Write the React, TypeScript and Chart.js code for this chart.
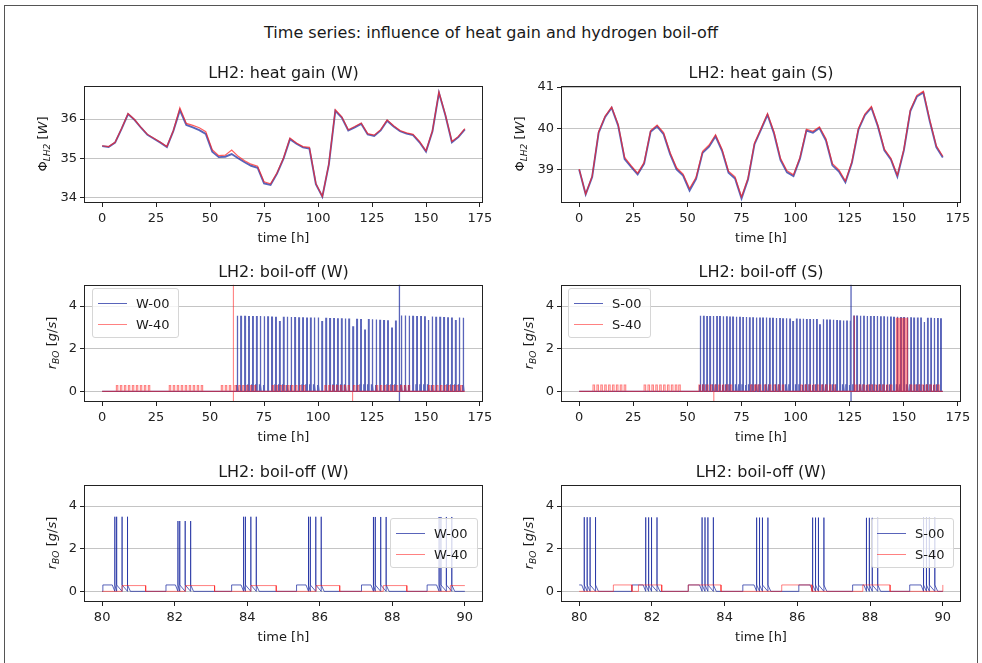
import React, { useEffect, useRef } from "react";
import { Chart, registerables } from "chart.js";

Chart.register(...registerables);

const FONT = "'DejaVu Sans', 'Liberation Sans', sans-serif";
Chart.defaults.font.family = FONT;

// ---------- heat gain data (hourly model, read every 3 h) ----------
const HEAT_TIME = [0,3,6,9,12,15,18,21,24,27,30,33,36,39,42,45,48,51,54,57,60,63,66,69,72,75,78,81,84,87,90,93,96,99,102,105,108,111,114,117,120,123,126,129,132,135,138,141,144,147,150,153,156,159,162,165,168];
const HEAT_W00 = [35.31,35.29,35.40,35.75,36.13,35.98,35.78,35.60,35.50,35.40,35.29,35.70,36.23,35.85,35.79,35.72,35.62,35.17,35.03,35.04,35.11,35.00,34.90,34.81,34.76,34.36,34.32,34.61,34.99,35.49,35.37,35.28,35.25,34.34,34.02,34.84,36.21,36.04,35.71,35.79,35.88,35.61,35.57,35.71,35.96,35.81,35.69,35.63,35.59,35.41,35.17,35.69,36.67,36.09,35.41,35.54,35.74];
const HEAT_W40 = [35.32,35.30,35.41,35.76,36.14,35.99,35.79,35.61,35.51,35.41,35.30,35.71,36.29,35.89,35.84,35.78,35.68,35.22,35.07,35.08,35.21,35.05,34.94,34.85,34.80,34.40,34.35,34.63,35.01,35.52,35.39,35.30,35.28,34.36,34.03,34.86,36.24,36.06,35.73,35.81,35.90,35.63,35.59,35.73,35.98,35.83,35.71,35.65,35.61,35.43,35.19,35.71,36.69,36.11,35.43,35.56,35.76];
const HEAT_S00 = [39.01,38.41,38.83,39.90,40.28,40.50,40.07,39.26,39.07,38.89,39.15,39.92,40.05,39.86,39.38,39.01,38.86,38.50,38.78,39.41,39.56,39.81,39.46,38.93,38.79,38.31,38.77,39.62,39.97,40.33,39.88,39.24,38.94,38.85,39.27,39.95,39.90,40.01,39.71,39.11,38.96,38.70,39.17,39.97,40.32,40.50,40.05,39.47,39.25,38.84,39.47,40.42,40.77,40.87,40.17,39.55,39.30];
const HEAT_S40 = [39.02,38.42,38.85,39.92,40.30,40.52,40.10,39.30,39.10,38.92,39.18,39.95,40.08,39.90,39.42,39.05,38.90,38.55,38.82,39.45,39.60,39.85,39.50,38.97,38.83,38.35,38.80,39.65,40.00,40.36,39.92,39.28,38.98,38.88,39.30,39.98,39.93,40.04,39.75,39.15,39.00,38.73,39.20,40.00,40.35,40.53,40.08,39.50,39.28,38.87,39.50,40.45,40.80,40.90,40.20,39.58,39.33];

// ---------- boil-off data ----------
// venting cycles: [start of cycle (h), peak boil-off rate (g/s)]
const W00_CYCLES: [number, number][] = [[62.2,3.55],[63.95,3.55],[65.74,3.55],[67.52,3.54],[69.3,3.54],[71.1,3.53],[72.88,3.53],[74.66,3.52],[76.45,3.52],[78.22,3.51],[80.02,3.5],[81.76,3.3],[83.57,3.5],[85.36,3.5],[87.15,3.49],[88.96,3.49],[90.75,3.48],[92.55,3.48],[94.33,3.47],[96.1,3.47],[97.9,3.46],[99.7,3.46],[101.5,3.3],[103.3,3.45],[105.1,3.44],[106.85,3.44],[108.65,3.43],[110.45,3.43],[112.25,3.42],[114.0,3.42],[115.8,3.05],[117.6,3.41],[119.4,3.4],[121.2,2.9],[122.95,3.39],[124.75,3.38],[126.55,3.37],[128.35,3.36],[130.1,3.35],[131.9,3.34],[133.7,3.0],[135.5,3.32],[138.2,3.56],[140.0,3.56],[141.8,3.55],[143.55,3.55],[145.35,3.54],[147.15,3.53],[148.95,3.52],[150.7,3.35],[152.5,3.51],[154.3,3.5],[156.1,3.5],[157.9,3.49],[159.65,3.48],[161.45,3.47],[163.25,3.35],[165.05,3.46],[166.85,3.45]];
const W00_SPIKE_OFFSETS = [0.33, 0.38, 0.53, 0.68];
const S00_CYCLES: [number, number][] = [[55.5,3.55],[57.0,3.55],[58.55,3.54],[60.05,3.54],[61.55,3.54],[63.1,3.53],[64.6,3.53],[66.1,3.52],[67.65,3.52],[69.15,3.51],[70.65,3.51],[72.2,3.5],[73.7,3.5],[75.2,3.49],[76.75,3.49],[78.25,3.48],[79.76,3.48],[81.45,3.47],[83.0,3.47],[84.5,3.46],[86.04,3.46],[87.52,3.45],[89.09,3.45],[90.65,3.44],[92.2,3.44],[93.75,3.43],[95.3,3.43],[96.85,3.42],[98.4,3.3],[99.95,3.42],[101.5,3.41],[103.05,3.41],[104.6,3.4],[106.15,3.4],[107.7,3.39],[109.25,3.39],[110.8,3.15],[112.35,3.38],[113.9,3.37],[115.45,3.37],[117.0,3.36],[118.55,3.35],[120.1,3.34],[121.65,3.33],[123.2,3.32],[124.75,3.31],[126.4,3.56],[127.95,3.56],[129.5,3.55],[131.05,3.55],[132.6,3.54],[134.15,3.54],[135.7,3.53],[137.25,3.53],[138.8,3.52],[140.35,3.52],[141.9,3.51],[143.45,3.51],[145.0,3.5],[146.55,3.5],[148.1,3.49],[149.65,3.49],[151.2,3.48],[152.75,3.48],[154.3,3.47],[155.85,3.47],[157.4,3.46],[158.95,3.25],[160.5,3.45],[162.05,3.45],[163.6,3.44],[165.15,3.44],[166.7,3.43]];
const S00_SPIKE_OFFSETS = [0.38, 0.46, 0.54, 0.69];
const CYCLE_BASE = 0.3;

// low-rate pulses: [start (h), end (h)]
const W40_PULSES: [number, number][] = [[6.6,7.25],[8.45,9.1],[10.3,10.95],[12.15,12.8],[14.0,14.65],[15.85,16.5],[17.7,18.35],[19.55,20.2],[21.4,22.05],[31.1,31.75],[32.95,33.6],[34.8,35.45],[36.65,37.3],[38.5,39.15],[40.35,41.0],[42.2,42.85],[44.05,44.7],[45.9,46.55],[55.2,55.85],[57.05,57.7],[58.9,59.55],[61.5,62.15],[63.3,63.95],[65.1,65.75],[66.9,67.55],[68.7,69.35],[70.5,71.15],[78.75,79.4],[80.55,81.2],[82.3,83.1],[84.1,84.8],[85.9,86.55],[87.75,88.4],[89.6,90.25],[91.45,92.1],[93.3,93.95],[103.1,103.75],[104.9,105.55],[106.7,107.35],[108.5,109.15],[110.3,110.95],[112.1,112.75],[113.9,114.55],[116.4,117.05],[118.2,118.85],[127.0,127.65],[128.85,129.5],[130.7,131.35],[132.55,133.2],[134.4,135.05],[136.25,136.9],[138.1,138.75],[139.95,140.6],[141.8,142.45],[151.2,151.85],[153.05,153.7],[154.9,155.55],[156.75,157.4],[158.6,159.25],[160.45,161.1],[162.3,162.95],[164.15,164.8],[166.0,166.65]];
const W40_PULSE_LEVEL = 0.27;
const S40_PULSES: [number, number][] = [[6.4,7.1],[8.2,8.9],[10.0,10.7],[11.8,12.5],[13.6,14.3],[15.4,16.1],[17.2,17.9],[19.0,19.7],[20.8,21.5],[30.0,30.7],[31.8,32.5],[33.6,34.3],[35.4,36.1],[37.2,37.9],[39.0,39.7],[40.8,41.5],[42.6,43.3],[44.4,45.1],[46.0,46.7],[55.3,56.0],[57.1,57.8],[58.9,59.6],[60.7,61.4],[62.6,63.3],[64.4,65.1],[66.2,66.9],[68.0,68.7],[69.8,70.5],[79.1,79.85],[80.94,81.45],[81.63,82.27],[83.0,83.9],[85.57,86.4],[87.8,88.55],[90.0,90.7],[91.9,92.6],[93.8,94.5],[102.4,103.1],[104.3,105.0],[106.2,106.9],[108.1,108.8],[110.0,110.7],[111.9,112.6],[113.8,114.5],[115.7,116.4],[117.6,118.3],[127.6,128.3],[129.4,130.1],[131.2,131.9],[133.0,133.7],[134.8,135.5],[136.6,137.3],[138.4,139.1],[140.2,140.9],[142.0,142.7],[143.8,144.5],[153.0,153.7],[154.8,155.5],[156.6,157.3],[158.4,159.1],[160.2,160.9],[162.0,162.7],[163.8,164.5],[165.6,166.3]];
const S40_PULSE_LEVEL = 0.3;
// single spikes: [time (h), peak (g/s)]
const S40_SPIKES: [number, number][] = [[127.1,3.55],[146.5,3.45],[147.0,3.45],[147.6,3.45],[148.2,3.45],[148.7,3.45],[149.3,3.45],[149.9,3.45],[150.5,3.45],[151.1,3.45],[151.7,3.45]];
// solver outliers: [time (h), low value, high value]
const W00_OUTLIERS: [number, number, number][] = [[137.7,-3,20]];
const W40_OUTLIERS: [number, number, number][] = [[60.8,-3,20],[116.0,-3,0]];
const S00_OUTLIERS: [number, number, number][] = [[125.6,-3,20]];
const S40_OUTLIERS: [number, number, number][] = [[62.2,-3,0]];
const T_END = 168;

// ---------- axis ticks ----------
const X_TICKS_FULL = [0,25,50,75,100,125,150,175];
const X_TICKS_ZOOM = [80,82,84,86,88,90];
const Y_TICKS_HEAT_W = [34,35,36];
const Y_TICKS_HEAT_S = [39,40,41];
const Y_TICKS_BO = [0,2,4];

const BLUE = "rgba(25,40,160,0.72)";
const RED = "rgba(255,25,25,0.55)";
const RED_HEAT = "rgba(255,30,30,0.72)";

type P = { x: number; y: number };

function heatPoints(vals: number[]): P[] {
  return HEAT_TIME.map((t, i) => ({ x: t, y: vals[i] }));
}

function buildBoilOff(
  cycles: [number, number][],
  offsets: number[],
  pulses: [number, number][],
  level: number,
  spikes: [number, number][],
  outliers: [number, number, number][]
): P[] {
  const segs: { t: number; pts: number[][] }[] = [];
  for (const [t, h] of cycles) {
    const pts: number[][] = [[t, 0], [t, CYCLE_BASE], [t + offsets[0] - 0.07, CYCLE_BASE]];
    for (const o of offsets) pts.push([t + o, 0], [t + o, h], [t + o, CYCLE_BASE]);
    pts.push([t + offsets[offsets.length - 1] + 0.08, 0]);
    segs.push({ t, pts });
  }
  for (const [s, e] of pulses) segs.push({ t: s, pts: [[s, 0], [s, level], [e, level], [e, 0]] });
  for (const [t, h] of spikes) segs.push({ t, pts: [[t, 0], [t, h], [t, 0]] });
  for (const [t, lo, hi] of outliers) segs.push({ t, pts: [[t, 0], [t, lo], [t, hi], [t, 0]] });
  segs.sort((a, b) => a.t - b.t);
  const out: P[] = [{ x: 0, y: 0 }];
  for (const s of segs) for (const [x, y] of s.pts) out.push({ x, y });
  out.push({ x: T_END, y: 0 });
  return out;
}

function sliceWindow(pts: P[], lo: number, hi: number): P[] {
  const out: P[] = [];
  for (let i = 0; i < pts.length; i++) {
    const p = pts[i];
    const prev = pts[i - 1];
    if (prev) {
      for (const b of [lo, hi]) {
        if ((prev.x - b) * (p.x - b) < 0) {
          const f = (b - prev.x) / (p.x - prev.x);
          out.push({ x: b, y: prev.y + f * (p.y - prev.y) });
        }
      }
    }
    if (p.x >= lo && p.x <= hi) out.push(p);
  }
  return out;
}

const BO_W00 = buildBoilOff(W00_CYCLES, W00_SPIKE_OFFSETS, [], 0, [], W00_OUTLIERS);
const BO_W40 = buildBoilOff([], W00_SPIKE_OFFSETS, W40_PULSES, W40_PULSE_LEVEL, [], W40_OUTLIERS);
const BO_S00 = buildBoilOff(S00_CYCLES, S00_SPIKE_OFFSETS, [], 0, [], S00_OUTLIERS);
const BO_S40 = buildBoilOff([], S00_SPIKE_OFFSETS, S40_PULSES, S40_PULSE_LEVEL, S40_SPIKES, S40_OUTLIERS);

const PAD_L = 45, PAD_T = 10, PAD_R = 15, PAD_B = 30;

const framePlugin = {
  id: "frame",
  afterDraw(chart: any) {
    const { ctx, chartArea: a } = chart;
    ctx.save();
    ctx.strokeStyle = "#222";
    ctx.lineWidth = 1;
    ctx.strokeRect(Math.round(a.left) + 0.5, Math.round(a.top) + 0.5, Math.round(a.right - a.left) - 1, Math.round(a.bottom - a.top) - 1);
    ctx.restore();
  },
};

type PanelProps = {
  L: number; T: number; R: number; B: number;
  datasets: any[];
  xMin: number; xMax: number; yMin: number; yMax: number;
  xTicks: number[]; yTicks: number[];
};

function Panel(p: PanelProps) {
  const ref = useRef<HTMLCanvasElement>(null);
  const w = p.R - p.L + PAD_L + PAD_R;
  const h = p.B - p.T + PAD_T + PAD_B;
  useEffect(() => {
    const chart = new Chart(ref.current as HTMLCanvasElement, {
      type: "line",
      data: { datasets: p.datasets },
      options: {
        animation: false,
        responsive: false,
        events: [],
        layout: { padding: { left: 0, top: PAD_T, right: PAD_R, bottom: 0 } },
        plugins: { legend: { display: false }, tooltip: { enabled: false } },
        elements: { point: { radius: 0 }, line: { tension: 0, borderCapStyle: "butt" } },
        scales: {
          x: {
            type: "linear",
            min: p.xMin,
            max: p.xMax,
            afterFit: (s: any) => { s.height = PAD_B; },
            afterBuildTicks: (s: any) => { s.ticks = p.xTicks.map((v) => ({ value: v })); },
            grid: { drawOnChartArea: false, drawTicks: true, tickLength: 4, tickColor: "#222", tickWidth: 1 },
            border: { display: false },
            ticks: { color: "#222", font: { size: 13, family: FONT }, padding: 4, maxRotation: 0, autoSkip: false },
          },
          y: {
            type: "linear",
            min: p.yMin,
            max: p.yMax,
            afterFit: (s: any) => { s.width = PAD_L; },
            afterBuildTicks: (s: any) => { s.ticks = p.yTicks.map((v) => ({ value: v })); },
            grid: { color: "#c4c4c4", lineWidth: 1, drawTicks: true, tickLength: 4, tickColor: "#222", tickWidth: 1 },
            border: { display: false },
            ticks: { color: "#222", font: { size: 13, family: FONT }, padding: 3, autoSkip: false },
          },
        },
      },
      plugins: [framePlugin],
    } as any);
    return () => chart.destroy();
  }, []);
  return (
    <canvas
      ref={ref}
      width={w}
      height={h}
      style={{ position: "absolute", left: p.L - PAD_L, top: p.T - PAD_T, width: w, height: h }}
    />
  );
}

function Txt(props: { x: number; baseline: number; size: number; children: any }) {
  return (
    <div
      style={{
        position: "absolute",
        left: props.x,
        top: props.baseline - 0.846 * props.size,
        fontSize: props.size,
        lineHeight: "1",
        whiteSpace: "nowrap",
        transform: "translateX(-50%)",
        color: "#1a1a1a",
      }}
    >
      {props.children}
    </div>
  );
}

function YLabel(props: { cx: number; cy: number; children: any }) {
  return (
    <div
      style={{
        position: "absolute",
        left: props.cx,
        top: props.cy,
        fontSize: 13,
        lineHeight: "1",
        whiteSpace: "nowrap",
        transform: "translate(-50%, -50%) rotate(-90deg)",
        color: "#1a1a1a",
      }}
    >
      {props.children}
    </div>
  );
}

const subStyle: React.CSSProperties = { fontSize: "0.7em", fontStyle: "italic", position: "relative", top: "0.28em" };

const PhiLabel = () => (
  <span>
    Φ<span style={subStyle}>LH2</span> [<i>W</i>]
  </span>
);
const RLabel = () => (
  <span>
    <i>r</i><span style={subStyle}>BO</span> [<i>g</i>/<i>s</i>]
  </span>
);

function Legend(props: { left: number; top: number; width: number; items: { label: string; color: string }[] }) {
  return (
    <div
      style={{
        position: "absolute",
        left: props.left,
        top: props.top,
        width: props.width,
        height: 50,
        boxSizing: "border-box",
        border: "1px solid #d6d6d6",
        borderRadius: 3,
        background: "rgba(255,255,255,0.8)",
      }}
    >
      {props.items.map((it, i) => (
        <React.Fragment key={i}>
          <div style={{ position: "absolute", left: 5, top: 14 + i * 21, width: 29, height: 0, borderTop: `1.5px solid ${it.color}` }} />
          <div style={{ position: "absolute", left: 43, top: 14 + i * 21 + 4.7 - 0.846 * 13, fontSize: 13, lineHeight: "1", color: "#1a1a1a" }}>
            {it.label}
          </div>
        </React.Fragment>
      ))}
    </div>
  );
}

function lineDs(data: P[], color: string, width: number, order: number) {
  return { data, borderColor: color, borderWidth: width, pointRadius: 0, fill: false, order };
}

export default function App() {
  useEffect(() => {
    document.body.style.margin = "0";
    document.body.style.overflow = "hidden";
  }, []);

  const W = { L: 84, R: 483 };
  const S = { L: 561, R: 961 };
  const rowTop = [85, 284, 484];
  const rowBot = [203, 402, 602];
  const cx = (c: { L: number; R: number }) => (c.L + c.R) / 2;

  return (
    <div style={{ position: "fixed", left: 0, top: 0, width: 982, height: 663, overflow: "hidden", background: "#fff", fontFamily: FONT }}>
      <div style={{ position: "absolute", left: 4, top: 5, width: 974, height: 700, boxSizing: "border-box", borderLeft: "1px solid #555", borderTop: "1px solid #555", borderRight: "1px solid #555" }} />

      <Txt x={491} baseline={39} size={16}>Time series: influence of heat gain and hydrogen boil-off</Txt>

      {/* top row */}
      <Panel L={W.L} R={W.R} T={rowTop[0]} B={rowBot[0]} xMin={-8.4} xMax={176.4} yMin={33.86} yMax={36.85}
        xTicks={X_TICKS_FULL} yTicks={Y_TICKS_HEAT_W}
        datasets={[lineDs(heatPoints(HEAT_W00), BLUE, 1.9, 1), lineDs(heatPoints(HEAT_W40), RED_HEAT, 1.2, 0)]} />
      <Panel L={S.L} R={S.R} T={rowTop[0]} B={rowBot[0]} xMin={-8.4} xMax={176.4} yMin={38.2} yMax={41.03}
        xTicks={X_TICKS_FULL} yTicks={Y_TICKS_HEAT_S}
        datasets={[lineDs(heatPoints(HEAT_S00), BLUE, 1.9, 1), lineDs(heatPoints(HEAT_S40), RED_HEAT, 1.2, 0)]} />

      {/* middle row */}
      <Panel L={W.L} R={W.R} T={rowTop[1]} B={rowBot[1]} xMin={-8.4} xMax={176.4} yMin={-0.5} yMax={5}
        xTicks={X_TICKS_FULL} yTicks={Y_TICKS_BO}
        datasets={[lineDs(BO_W00, BLUE, 1.3, 1), lineDs(BO_W40, RED, 1.1, 0)]} />
      <Panel L={S.L} R={S.R} T={rowTop[1]} B={rowBot[1]} xMin={-8.4} xMax={176.4} yMin={-0.5} yMax={5}
        xTicks={X_TICKS_FULL} yTicks={Y_TICKS_BO}
        datasets={[lineDs(BO_S00, BLUE, 1.3, 1), lineDs(BO_S40, RED, 1.1, 0)]} />

      {/* bottom row */}
      <Panel L={W.L} R={W.R} T={rowTop[2]} B={rowBot[2]} xMin={79.5} xMax={90.5} yMin={-0.5} yMax={5}
        xTicks={X_TICKS_ZOOM} yTicks={Y_TICKS_BO}
        datasets={[lineDs(sliceWindow(BO_W00, 80, 90), BLUE, 1, 1), lineDs(sliceWindow(BO_W40, 80, 90), RED, 1, 0)]} />
      <Panel L={S.L} R={S.R} T={rowTop[2]} B={rowBot[2]} xMin={79.5} xMax={90.5} yMin={-0.5} yMax={5}
        xTicks={X_TICKS_ZOOM} yTicks={Y_TICKS_BO}
        datasets={[lineDs(sliceWindow(BO_S00, 80, 90), BLUE, 1, 1), lineDs(sliceWindow(BO_S40, 80, 90), RED, 1, 0)]} />

      {/* titles */}
      <Txt x={cx(W)} baseline={rowTop[0] - 6} size={16}>LH2: heat gain (W)</Txt>
      <Txt x={cx(S)} baseline={rowTop[0] - 6} size={16}>LH2: heat gain (S)</Txt>
      <Txt x={cx(W)} baseline={rowTop[1] - 6} size={16}>LH2: boil-off (W)</Txt>
      <Txt x={cx(S)} baseline={rowTop[1] - 6} size={16}>LH2: boil-off (S)</Txt>
      <Txt x={cx(W)} baseline={rowTop[2] - 6} size={16}>LH2: boil-off (W)</Txt>
      <Txt x={cx(S)} baseline={rowTop[2] - 6} size={16}>LH2: boil-off (W)</Txt>

      {/* x labels */}
      {rowBot.map((b, i) => (
        <React.Fragment key={i}>
          <Txt x={cx(W)} baseline={b + 39} size={13}>time [h]</Txt>
          <Txt x={cx(S)} baseline={b + 39} size={13}>time [h]</Txt>
        </React.Fragment>
      ))}

      {/* y labels */}
      <YLabel cx={43} cy={144}><PhiLabel /></YLabel>
      <YLabel cx={520} cy={144}><PhiLabel /></YLabel>
      <YLabel cx={52} cy={343}><RLabel /></YLabel>
      <YLabel cx={529} cy={343}><RLabel /></YLabel>
      <YLabel cx={52} cy={543}><RLabel /></YLabel>
      <YLabel cx={529} cy={543}><RLabel /></YLabel>

      {/* legends */}
      <Legend left={92} top={288} width={87} items={[{ label: "W-00", color: BLUE }, { label: "W-40", color: RED }]} />
      <Legend left={568} top={288} width={83} items={[{ label: "S-00", color: BLUE }, { label: "S-40", color: RED }]} />
      <Legend left={390} top={518} width={88} items={[{ label: "W-00", color: BLUE }, { label: "W-40", color: RED }]} />
      <Legend left={871} top={518} width={83} items={[{ label: "S-00", color: BLUE }, { label: "S-40", color: RED }]} />
    </div>
  );
}
